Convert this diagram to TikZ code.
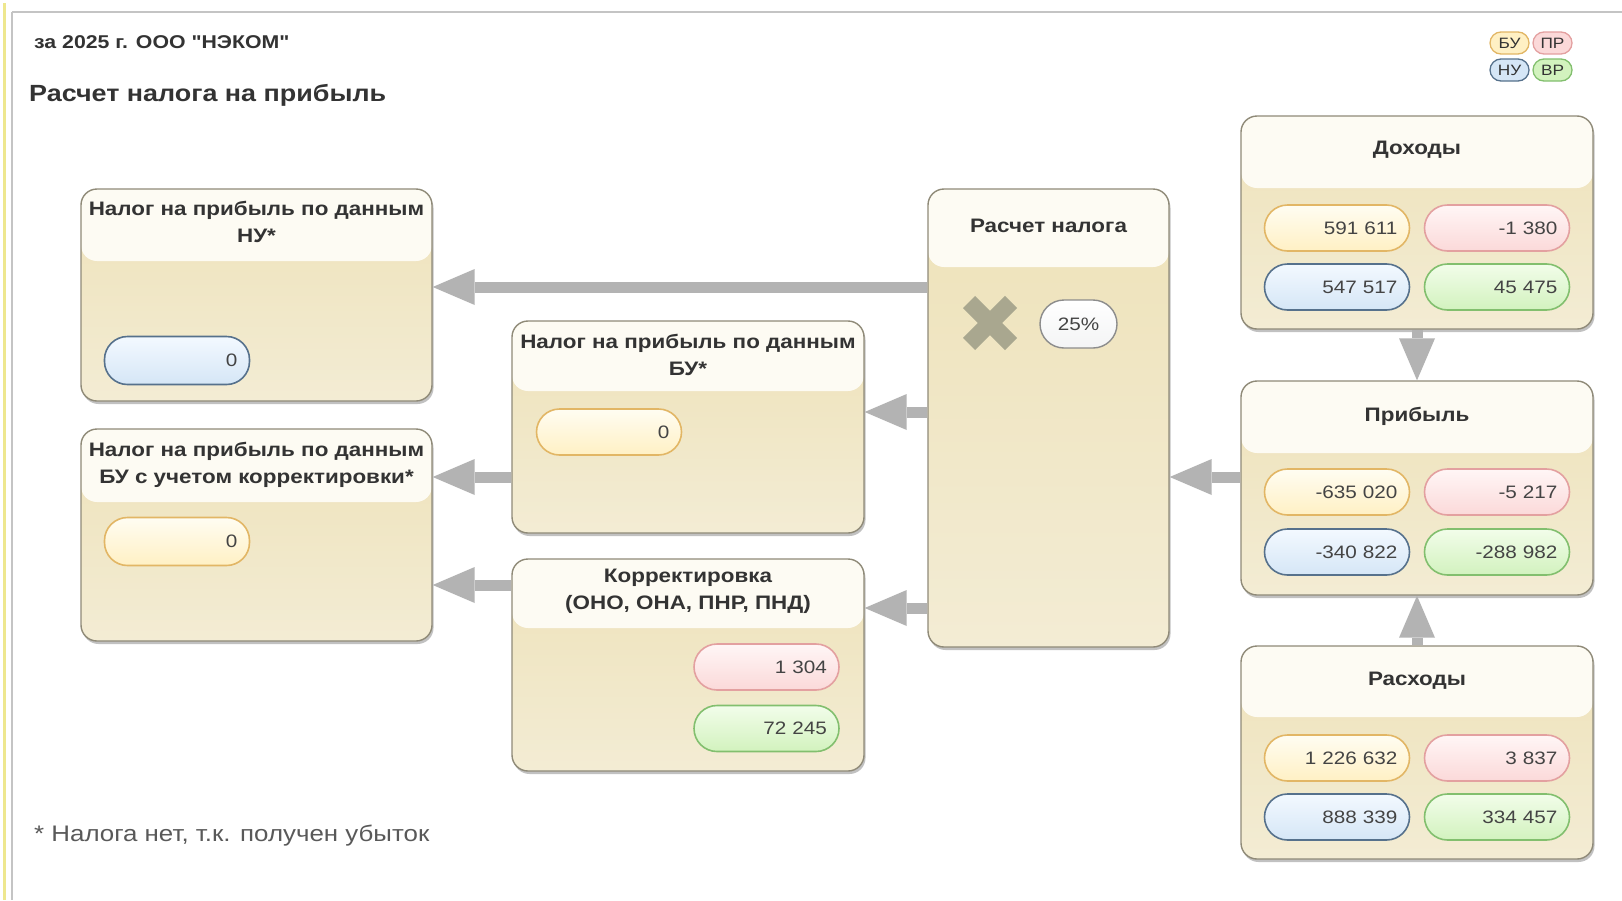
\documentclass[tikz,border=0pt]{standalone}
\usepackage{fontspec}
\newfontfamily\lsans{Liberation Sans}[FakeStretch=1.15]
\usetikzlibrary{arrows.meta,shadows}
\definecolor{boxline}{HTML}{8F8A78}
\definecolor{headfill}{HTML}{FDFBF3}
\definecolor{bodytop}{HTML}{EEE2B9}
\definecolor{bodybot}{HTML}{F3ECD4}
\definecolor{arrgray}{HTML}{B3B3B3}
\definecolor{xgray}{HTML}{A9A78F}
\definecolor{txt}{HTML}{333333}
\definecolor{numtxt}{HTML}{444444}
\definecolor{yBd}{HTML}{E2B665}
\definecolor{yTop}{HTML}{FFFDF2}
\definecolor{yBot}{HTML}{FFF0C4}
\definecolor{pBd}{HTML}{E3A0A0}
\definecolor{pTop}{HTML}{FFF6F6}
\definecolor{pBot}{HTML}{FBD9D9}
\definecolor{bBd}{HTML}{56718C}
\definecolor{bTop}{HTML}{F3F9FF}
\definecolor{bBot}{HTML}{D5E6F6}
\definecolor{gBd}{HTML}{82BF6E}
\definecolor{gTop}{HTML}{F2FDEA}
\definecolor{gBot}{HTML}{D2F2BE}
\definecolor{frameyel}{HTML}{EEE78E}
\definecolor{framegray}{HTML}{C4C4C4}
\newcommand\ttlfont{\lsans\fontsize{19.5}{27}\selectfont\bfseries}
\newcommand\numfont{\lsans\fontsize{18}{20}\selectfont}
\begin{document}
\begin{tikzpicture}[x=1pt,y=-1pt,
  box/.style={draw=boxline, line width=1.4pt, rounded corners=16pt,
    top color=bodytop, bottom color=bodybot,
    drop shadow={shadow xshift=1.5pt, shadow yshift=-3pt, opacity=0.4, fill=black!60},
    path picture={\fill[headfill] (path picture bounding box.north west) rectangle ([yshift=-#1pt]path picture bounding box.north east);}},
  ttl/.style={font=\ttlfont, text=txt, align=center, inner sep=0pt},
  pill/.style={rounded corners=23pt, line width=1.6pt, minimum height=46pt,
    text width=121pt, inner xsep=12pt, inner ysep=0pt, align=right, font=\numfont, text=numtxt},
  pY/.style={pill, draw=yBd, top color=yTop, bottom color=yBot},
  pP/.style={pill, draw=pBd, top color=pTop, bottom color=pBot},
  pB/.style={pill, draw=bBd, top color=bTop, bottom color=bBot},
  pG/.style={pill, draw=gBd, top color=gTop, bottom color=gBot},
  leg/.style={rounded corners=11pt, line width=1.3pt, minimum width=39pt, minimum height=22pt,
    inner sep=0pt, font=\lsans\fontsize{15}{15}\selectfont, text=black!80},
  arr/.style={draw=arrgray, line width=11pt, -{Triangle[width=36pt,length=42pt,line width=0pt]}}
]
\useasboundingbox (0,0) rectangle (1622,900);
\fill[white] (0,0) rectangle (1622,900);
% frame
\draw[frameyel, line width=3pt] (4.5,3) -- (4.5,900);
\draw[framegray, line width=2pt] (12,12) -- (1622,12);
\draw[framegray, line width=1.5pt] (12,12) -- (12,900);

% headings
\node[anchor=west, inner sep=0pt, font=\lsans\fontsize{18.5}{18}\selectfont\bfseries, text=txt] (hdr) at (34,42) {за 2025 г. ООО "НЭКОМ"};
\node[anchor=west, inner sep=0pt, font=\lsans\fontsize{23.4}{24}\selectfont\bfseries, text=txt] (title) at (29,95) {Расчет налога на прибыль};
\node[anchor=west, inner sep=0pt, font=\lsans\fontsize{22.5}{22}\selectfont, text=black!65] (foot) at (34,836) {* Налога нет, т.к. получен убыток};

% legend
\node[leg, draw=yBd, fill=yBot] (lBU) at (1509.5,43) {БУ};
\node[leg, draw=pBd, fill=pBot] (lPR) at (1552.5,43) {ПР};
\node[leg, draw=bBd, fill=bBot] (lNU) at (1509.5,70) {НУ};
\node[leg, draw=gBd, fill=gBot] (lVR) at (1552.5,70) {ВР};

% boxes
\node[box=72, minimum width=352pt, minimum height=213pt] (dohod) at (1417,222.5) {};
\node[box=72, minimum width=352pt, minimum height=214pt] (prib) at (1417,488) {};
\node[box=71, minimum width=352pt, minimum height=213pt] (rash) at (1417,752.5) {};
\node[box=78, minimum width=241pt, minimum height=458pt] (raschet) at (1048.5,418) {};
\node[box=72, minimum width=351pt, minimum height=212pt] (nu) at (256.5,295) {};
\node[box=70, minimum width=352pt, minimum height=212pt] (bu) at (688,427) {};
\node[box=73, minimum width=351pt, minimum height=212pt] (buk) at (256.5,535) {};
\node[box=69, minimum width=352pt, minimum height=212pt] (korr) at (688,665) {};

% titles
\node[ttl] (dohodT) at (1417,150) {Доходы};
\node[ttl] (pribT) at (1417,416) {Прибыль};
\node[ttl] (rashT) at (1417,681) {Расходы};
\node[ttl] (raschetT) at (1048.5,226) {Расчет налога};
\node[ttl] (nuT) at (256.5,221.5) {Налог на прибыль по данным\\НУ*};
\node[ttl] (buT) at (688,355) {Налог на прибыль по данным\\БУ*};
\node[ttl] (bukT) at (256.5,464.5) {Налог на прибыль по данным\\БУ с учетом корректировки*};
\node[ttl] (korrT) at (688,591.5) {Корректировка\\(ОНО, ОНА, ПНР, ПНД)};

% pills
\node[pY] (d1) at (1337,228) {591 611};
\node[pP] (d2) at (1497,228) {-1 380};
\node[pB] (d3) at (1337,287) {547 517};
\node[pG] (d4) at (1497,287) {45 475};
\node[pY] (p1) at (1337,492) {-635 020};
\node[pP] (p2) at (1497,492) {-5 217};
\node[pB] (p3) at (1337,552) {-340 822};
\node[pG] (p4) at (1497,552) {-288 982};
\node[pY] (r1) at (1337,758) {1 226 632};
\node[pP] (r2) at (1497,758) {3 837};
\node[pB] (r3) at (1337,817) {888 339};
\node[pG] (r4) at (1497,817) {334 457};
\node[pB, minimum height=48pt] (nuV) at (177,360.5) {0};
\node[pY] (buV) at (609,432) {0};
\node[pY, minimum height=48pt] (bukV) at (177,541.5) {0};
\node[pP] (k1) at (766.5,667) {1 304};
\node[pG] (k2) at (766.5,728.5) {72 245};
\node[rounded corners=24pt, line width=1.4pt, draw=black!45, top color=white, bottom color=bTop!60!gray!20,
  minimum width=77pt, minimum height=48pt, inner sep=0pt, font=\numfont, text=numtxt] (rate) at (1078.5,324) {25\%};

% cross
\coordinate (xm) at (990,323);
\draw[xgray, line width=17pt] ([shift={(-21,-21)}]xm) -- ([shift={(21,21)}]xm);
\draw[xgray, line width=17pt] ([shift={(-21,21)}]xm) -- ([shift={(21,-21)}]xm);

% connectors
\coordinate (a1) at (0,287);
\coordinate (a2) at (0,412);
\coordinate (a3) at (0,608);
\coordinate (a4) at (0,477);
\coordinate (a5) at (0,585);
\draw[arr] (raschet.west |- a1) -- (nu.east |- a1);
\draw[arr] (raschet.west |- a2) -- (bu.east |- a2);
\draw[arr] (raschet.west |- a3) -- (korr.east |- a3);
\draw[arr] (bu.west |- a4) -- (buk.east |- a4);
\draw[arr] (korr.west |- a5) -- (buk.east |- a5);
\draw[arr] (prib.west |- a4) -- (raschet.east |- a4);
\draw[arr] (dohod.south) -- (prib.north);
\draw[arr] (rash.north) -- (prib.south);
\end{tikzpicture}
\end{document}
